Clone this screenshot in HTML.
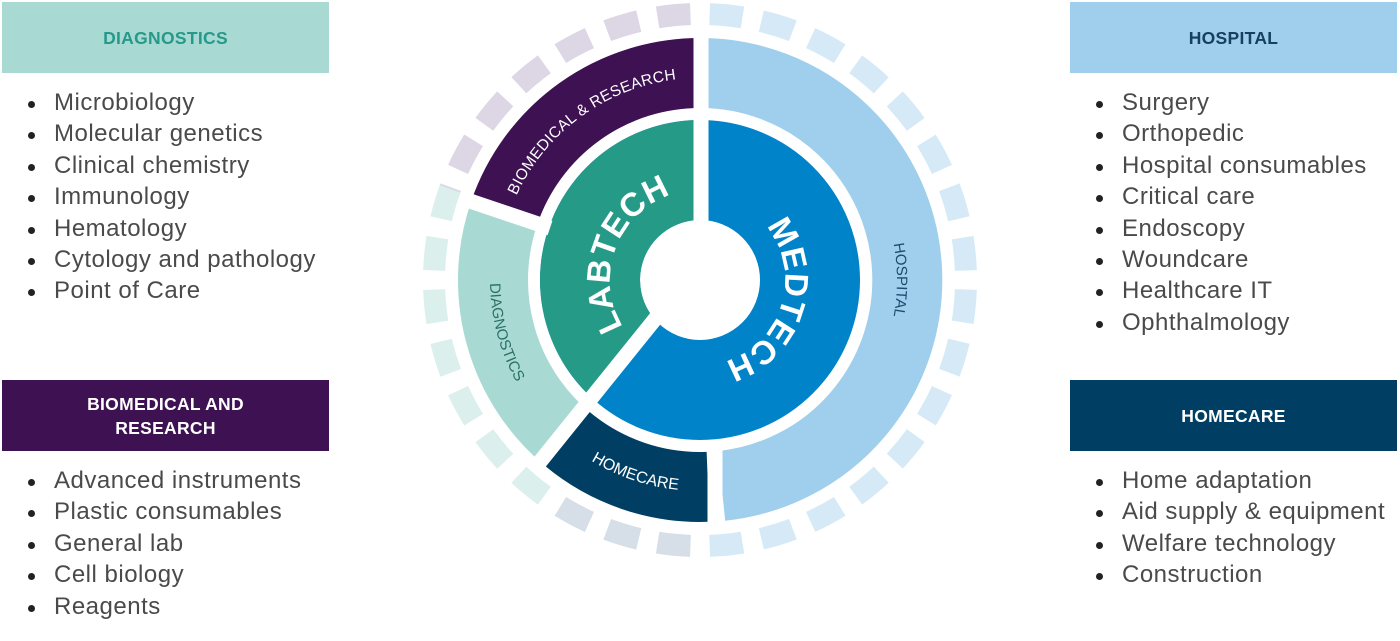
<!DOCTYPE html>
<html><head><meta charset="utf-8">
<style>
html,body{margin:0;padding:0;background:#fff;}
body{width:1400px;height:641px;position:relative;overflow:hidden;font-family:"Liberation Sans",sans-serif;}
.box{position:absolute;width:327px;height:71px;display:flex;align-items:center;justify-content:center;text-align:center;font-weight:bold;font-size:17.5px;line-height:24px;letter-spacing:0.3px;}
.list{position:absolute;margin:0;padding:0;list-style:none;font-size:24px;color:#4a4a4a;letter-spacing:0.5px;}
.list li{position:relative;height:31.4px;line-height:31.4px;padding-left:26px;white-space:nowrap;}
.list li:before{content:"";position:absolute;left:0;top:14px;width:7px;height:7px;border-radius:50%;background:#222;}
svg{position:absolute;left:0;top:0;}
</style></head><body>

<div class="box" style="left:2px;top:2px;background:#a8dad3;color:#26998a;">DIAGNOSTICS</div>
<ul class="list" style="left:28px;top:87px;">
<li>Microbiology</li><li>Molecular genetics</li><li>Clinical chemistry</li><li>Immunology</li><li>Hematology</li><li>Cytology and pathology</li><li>Point of Care</li>
</ul>

<div class="box" style="left:2px;top:380px;background:#3d1152;color:#fff;">BIOMEDICAL AND<br>RESEARCH</div>
<ul class="list" style="left:28px;top:465px;">
<li>Advanced instruments</li><li>Plastic consumables</li><li>General lab</li><li>Cell biology</li><li>Reagents</li>
</ul>

<div class="box" style="left:1070px;top:2px;background:#9fcfec;color:#163f60;">HOSPITAL</div>
<ul class="list" style="left:1096px;top:87px;">
<li>Surgery</li><li>Orthopedic</li><li>Hospital consumables</li><li>Critical care</li><li>Endoscopy</li><li>Woundcare</li><li>Healthcare IT</li><li>Ophthalmology</li>
</ul>

<div class="box" style="left:1070px;top:380px;background:#003f63;color:#fff;">HOMECARE</div>
<ul class="list" style="left:1096px;top:465px;">
<li>Home adaptation</li><li>Aid supply &amp; equipment</li><li>Welfare technology</li><li>Construction</li>
</ul>

<svg width="1400" height="641" viewBox="0 0 1400 641">
<defs>
<clipPath id="cHos"><rect x="701" y="0" width="400" height="641"/></clipPath>
<clipPath id="cHom"><polygon points="700,280 701,700 470.6,607.7"/></clipPath>
<clipPath id="cDia"><polygon points="700,280 470.6,607.7 324.1,143.2"/></clipPath>
<clipPath id="cBio"><polygon points="700,280 324.1,143.2 700,-120"/></clipPath>
<path id="pBio" d="M510.2,210.9 A202,202 0 0 1 693,78.1"/>
<path id="pHos" d="M850.9,153.4 A197,197 0 0 1 850.9,406.6"/>
<path id="pDia" d="M493.2,243.5 A210,210 0 0 0 539.1,415"/>
<path id="pHom" d="M579,452.8 A211,211 0 0 0 692.6,490.9"/>
<path id="pLab" d="M642.1,348.9 A90,90 0 0 1 700,190"/>
<path id="pMed" d="M751.2,212.1 A85,85 0 0 1 704.4,364.9"/>
</defs>

<!-- outer dashed ring -->
<g fill="none" stroke-width="22" stroke-dasharray="33 19.23" stroke-dashoffset="42.73">
<circle cx="700" cy="280" r="266" stroke="#d5eaf6" clip-path="url(#cHos)"/>
<circle cx="700" cy="280" r="266" stroke="#d6dfe7" clip-path="url(#cHom)"/>
<circle cx="700" cy="280" r="266" stroke="#dbefec" clip-path="url(#cDia)"/>
<circle cx="700" cy="280" r="266" stroke="#ddd6e5" clip-path="url(#cBio)"/>
</g>

<!-- middle ring -->
<g fill="none" stroke-width="70">
<path d="M700,73 A207,207 0 0 1 721.6,485.9" stroke="#9fcfec"/>
<path d="M708,486.8 A207,207 0 0 1 566.9,438.6" stroke="#003f63"/>
<path d="M566.9,438.6 A207,207 0 0 1 504.3,212.6" stroke="#a8dad3"/>
<path d="M504.3,212.6 A207,207 0 0 1 700,73" stroke="#3d1152"/>
</g>

<!-- inner ring -->
<circle cx="700" cy="280" r="110" fill="none" stroke="#0083c9" stroke-width="100"/>
<path d="M626.4,361.7 A110,110 0 0 1 700,170" fill="none" stroke="#259b87" stroke-width="100"/>

<!-- gaps -->
<g stroke="#fff" stroke-width="15" fill="none">
<line x1="701" y1="28" x2="701" y2="282"/>
<line x1="672" y1="298" x2="535" y2="468"/>
<line x1="550" y1="228" x2="464" y2="199"/>
<line x1="715" y1="445" x2="715" y2="527"/>
</g>

<!-- labels -->
<text font-size="15.5" fill="#fff" letter-spacing="0.3"><textPath href="#pBio" startOffset="50%" text-anchor="middle">BIOMEDICAL &amp; RESEARCH</textPath></text>
<text font-size="15" fill="#1d4a6e"><textPath href="#pHos" startOffset="50%" text-anchor="middle">HOSPITAL</textPath></text>
<text font-size="15" fill="#2b6f66"><textPath href="#pDia" startOffset="50%" text-anchor="middle">DIAGNOSTICS</textPath></text>
<text font-size="16" fill="#fff"><textPath href="#pHom" startOffset="50%" text-anchor="middle">HOMECARE</textPath></text>
<text font-size="33" font-weight="bold" fill="#fff" letter-spacing="0.5"><textPath href="#pLab" startOffset="50%" text-anchor="middle">LABTECH</textPath></text>
<text font-size="33" font-weight="bold" fill="#fff" letter-spacing="0.5"><textPath href="#pMed" startOffset="50%" text-anchor="middle">MEDTECH</textPath></text>
</svg>
</body></html>
